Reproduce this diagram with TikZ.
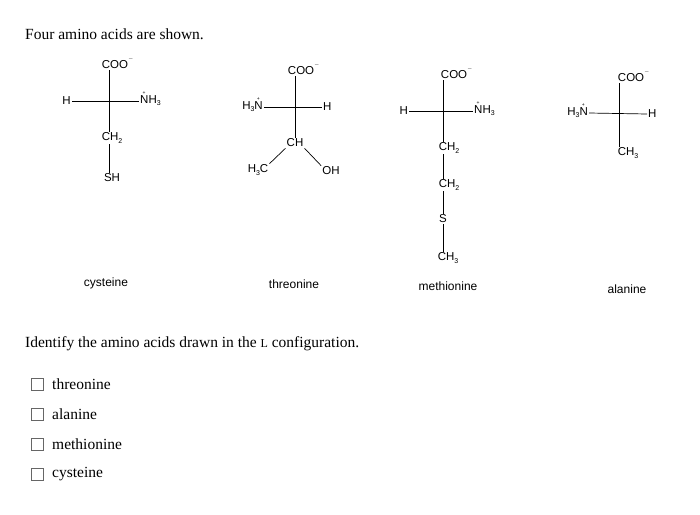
\documentclass[tikz,border=0pt]{standalone}
\usepackage{fontspec}
\setmainfont{Liberation Serif}
\setsansfont{Liberation Sans}
\newcommand\myNp{\makebox[0pt][l]{\hspace{0.2em}\raisebox{1.55ex}[0pt][0pt]{\tiny +}}N}
\newcommand\mysub[1]{\raisebox{-0.35ex}{\scriptsize #1}}
\newcommand\mycoo{COO\raisebox{0.9ex}{\scriptsize$^-$}}
\begin{document}
\begin{tikzpicture}[x=1pt,y=-1pt,
  chem/.style={font=\sffamily\fontsize{11.5}{13}\selectfont,inner sep=1pt},
  nm/.style={font=\sffamily\fontsize{12}{14}\selectfont},
  txt/.style={font=\fontsize{15.5}{18}\selectfont,anchor=west,inner sep=0},
  bond/.style={line width=0.7pt},
  cbox/.style={draw=black!60,line width=0.6pt,minimum width=12pt,minimum height=12pt,inner sep=0}]
\useasboundingbox[fill=white] (0,0) rectangle (700,514);
\node[txt] (t1) at (25,34) {Four amino acids are shown.};
% cysteine
\coordinate (c1) at (109,101);
\node[chem] (c1top) at (118,63) {\mycoo};
\node[chem,anchor=east] (c1l) at (72,101) {H};
\node[chem,anchor=west] (c1r) at (139,101) {\myNp H\mysub{3}};
\node[chem] (c1b) at (112,138) {CH\mysub{2}};
\node[chem] (c1s) at (112,178) {SH};
\draw[bond] (c1top.south-|c1) -- (c1b.north-|c1);
\draw[bond] (c1l) -- (c1r);
\draw[bond] (c1b.south-|c1) -- (c1s.north-|c1);
\node[nm] (n1) at (106,283) {cysteine};
% threonine
\coordinate (c2) at (295,107);
\node[chem] (c2top) at (304,69) {\mycoo};
\node[chem,anchor=east] (c2l) at (264,107) {H\mysub{3}\myNp};
\node[chem,anchor=west] (c2r) at (322,107) {H};
\node[chem] (c2b) at (295,143) {CH};
\node[chem] (c2x) at (258,170) {H\mysub{3}C};
\node[chem] (c2y) at (331,171) {OH};
\draw[bond] (c2top.south-|c2) -- (c2b.north-|c2);
\draw[bond] (c2l.east) -- (c2r.west);
\draw[bond] (c2b.south west) -- (c2x.north east);
\draw[bond] (c2b.south east) -- (c2y.north west);
\node[nm] (n2) at (294,284) {threonine};
% methionine
\coordinate (c3) at (443,110);
\node[chem] (c3top) at (457,73) {\mycoo};
\node[chem,anchor=east] (c3l) at (409,111) {H};
\node[chem,anchor=west] (c3r) at (473,111) {\myNp H\mysub{3}};
\node[chem] (c3a) at (449,148) {CH\mysub{2}};
\node[chem] (c3b) at (449,185) {CH\mysub{2}};
\node[chem] (c3s) at (443,219) {S};
\node[chem] (c3c) at (448,258) {CH\mysub{3}};
\draw[bond] (c3top.south-|c3) -- (c3a.north-|c3);
\draw[bond] (c3l) -- (c3r);
\draw[bond] (c3a.south-|c3) -- (c3b.north-|c3);
\draw[bond] (c3b.south-|c3) -- (c3s.north-|c3);
\draw[bond] (c3s.south-|c3) -- (c3c.north-|c3);
\node[nm] (n3) at (448,286) {methionine};
% alanine
\coordinate (c4) at (619,113);
\node[chem] (c4top) at (634,76) {\mycoo};
\node[chem,anchor=east] (c4l) at (589,113) {H\mysub{3}\myNp};
\node[chem,anchor=west] (c4r) at (647,114) {H};
\node[chem] (c4b) at (628,153) {CH\mysub{3}};
\draw[bond] (c4top.south-|c4) -- (c4b.north-|c4);
\draw[bond] (c4l.east) -- (c4r.west);
\node[nm] (n4) at (627,289) {alanine};
% question
\node[txt] (q) at (25,344) {Identify the amino acids drawn in the {\fontsize{12}{14}\selectfont L} configuration.};
\foreach \y/\t [count=\i] in {384/threonine,414/alanine,444/methionine,474/cysteine}{
  \node[cbox] (b\i) at (37,\y) {};
  \node[txt] (l\i) at (52,\y) {\t};
}
\end{tikzpicture}
\end{document}
